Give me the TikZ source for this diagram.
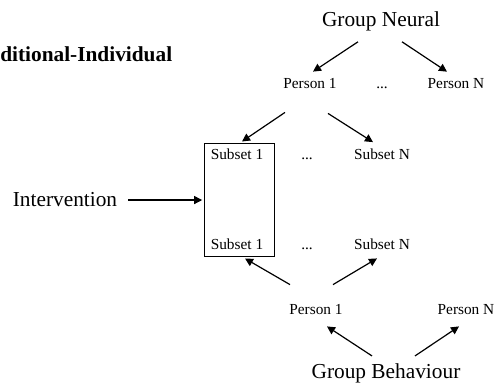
\documentclass[tikz,border=0pt]{standalone}
\usepackage{fontspec}
\setmainfont{Liberation Serif}
\usetikzlibrary{arrows.meta}
\tikzset{
 big/.style={inner sep=0, anchor=base, font=\fontsize{16}{19}\selectfont},
 small/.style={inner sep=0, anchor=base, font=\fontsize{11.5}{14}\selectfont},
 arr/.style={line width=.9pt, -{Triangle[length=6pt,width=6pt]}}
}
\begin{document}
\begin{tikzpicture}[x=.75pt, y=-.75pt]
\useasboundingbox (0,0) rectangle (497,385);
\node[inner sep=0, anchor=base west, font=\fontsize{16}{19}\selectfont\bfseries] (title) at (0,62) {ditional-Individual};
% neural side
\node[big] (gn) at (381,27) {Group Neural};
\node[small] (p1) at (310,89) {Person 1};
\node[small] (pd) at (382,89) {...};
\node[small] (pN) at (456,89) {Person N};
% subsets
\node[draw, line width=.75pt, minimum width=52.5pt, minimum height=84pt, inner sep=0] (box) at (239,200) {};
\foreach \y/\n in {160/t, 249/b} {
 \node[small] (s1\n) at (237,\y) {Subset 1};
 \node[small] (sd\n) at (307,\y) {...};
 \node[small] (sN\n) at (382,\y) {Subset N};
}
\node[big] (iv) at (65,207) {Intervention};
% behaviour side
\node[small] (q1) at (316,315) {Person 1};
\node[small] (qN) at (466,315) {Person N};
\node[big] (gb) at (386,378) {Group Behaviour};
% arrows
\draw[arr] ([shift={(-23,10)}]gn.south) -- ([shift={(3,-7)}]p1.north);
\draw[arr] ([shift={(21,10)}]gn.south) -- ([shift={(-9,-7)}]pN.north);
\draw[arr] ([shift={(-25,23)}]p1.south) -- ([shift={(3,-2)}]box.north);
\draw[arr] ([shift={(18,24)}]p1.south) -- ([shift={(-9,-7)}]sNt.north);
\draw[arr] ([xshift=8]iv.east) -- ([xshift=-1]iv.east -| box.west);
\draw[arr] ([shift={(-26,-20)}]q1.north) -- ([shift={(6,2)}]box.south);
\draw[arr] ([shift={(17,-20)}]q1.north) -- ([shift={(-5,9)}]sNb.south);
\draw[arr] ([shift={(-14,-7)}]gb.north) -- ([shift={(11,11)}]q1.south);
\draw[arr] ([shift={(29,-7)}]gb.north) -- ([shift={(-7,11)}]qN.south);
\end{tikzpicture}
\end{document}
